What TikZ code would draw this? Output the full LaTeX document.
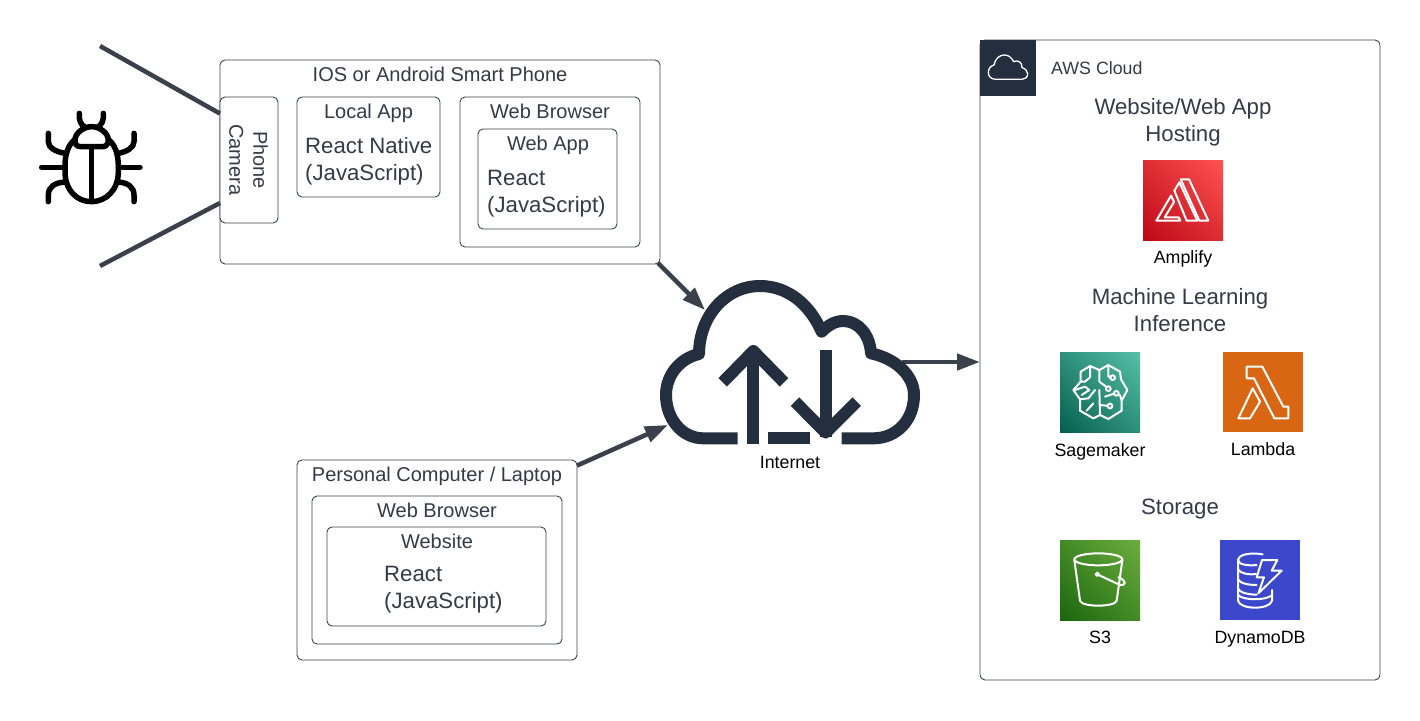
\documentclass[tikz,border=0pt]{standalone}
\usepackage{fontspec}
\setmainfont{Liberation Sans}
\usetikzlibrary{arrows.meta,shadings}
\definecolor{ink}{HTML}{333B46}
\definecolor{edge}{HTML}{3A414A}
\definecolor{awsdark}{HTML}{232F3E}
\definecolor{ampA}{HTML}{BD0816}\definecolor{ampB}{HTML}{FF5252}\definecolor{ampM}{HTML}{DE2E34}
\definecolor{sagA}{HTML}{055F4E}\definecolor{sagB}{HTML}{56C0A7}\definecolor{sagM}{HTML}{2E907A}
\definecolor{s3A}{HTML}{1B660F}\definecolor{s3B}{HTML}{6CAE3E}\definecolor{s3M}{HTML}{448A26}
\definecolor{lamC}{HTML}{D86613}
\definecolor{dynC}{HTML}{3B48CC}
\tikzset{
 box/.style={draw=edge,line width=0.9pt,rounded corners=5pt,fill=white,inner sep=0pt,outer sep=0pt},
 ttl/.style={text=ink,inner sep=0pt,font=\fontsize{20}{24}\selectfont},
 big/.style={text=ink,inner sep=0pt,font=\fontsize{22.2}{26.5}\selectfont},
 lft/.style={big,anchor=west,align=left},
 iconcap/.style={text=black,inner sep=0pt,font=\fontsize{17.8}{20}\selectfont},
 conn/.style={draw=edge,line width=4.5pt},
 arrowline/.style={conn,-{Triangle[length=23pt,width=16pt]}},
 glyph/.style={draw=white,line width=2pt,line join=round,line cap=round},
 iconbox/.style={minimum width=80pt,minimum height=80pt,inner sep=0pt,outer sep=0pt},
 bugline/.style={draw=black,line width=5.5pt,line cap=round,line join=round},
 cloudline/.style={draw=awsdark,line width=12pt,line join=round},
 zoomed/.style={x=0.33333pt,y=-0.33333pt},
}
\begin{document}
\begin{tikzpicture}[x=1pt,y=-1pt]
\useasboundingbox (0,0) rectangle (1420,720);
\fill[white] (0,0) rectangle (1420,720);

% smart phone
\node[box,minimum width=440pt,minimum height=204pt] (phone) at (440,162) {};
\node[ttl] (phoneT) at (440,74.5) {IOS or Android Smart Phone};
\node[box,minimum width=58pt,minimum height=126pt] (camera) at (249,160) {};
\node[ttl,rotate=-90,align=center] (cameraT) at (248.5,160) {Phone\\Camera};
\node[box,minimum width=143pt,minimum height=100pt] (local) at (368.5,147) {};
\node[ttl] (localT) at (368.5,113) {Local App};
\node[lft] (localA) at (305,146) {React Native};
\node[lft] (localB) at (305,174.5) {(JavaScript)};
\node[box,minimum width=180pt,minimum height=150pt] (browser) at (550,172) {};
\node[ttl] (browserT) at (550,111) {Web Browser};
\node[box,minimum width=139pt,minimum height=100pt] (webapp) at (547.5,179) {};
\node[ttl] (webappT) at (548,145) {Web App};
\node[lft] (webappA) at (487,177.5) {React};
\node[lft] (webappB) at (487,206.5) {(JavaScript)};

% personal computer
\node[box,minimum width=280pt,minimum height=200pt] (pc) at (437,560) {};
\node[ttl] (pcT) at (437,476.5) {Personal Computer / Laptop};
\node[box,minimum width=250pt,minimum height=148pt] (pcb) at (437,570) {};
\node[ttl] (pcbT) at (437,510.5) {Web Browser};
\node[box,minimum width=219pt,minimum height=99pt] (site) at (436.5,576.5) {};
\node[ttl] (siteT) at (437,541.5) {Website};
\node[lft] (siteA) at (384,573.5) {React};
\node[lft] (siteB) at (384,602.5) {(JavaScript)};

% AWS
\node[box,minimum width=400pt,minimum height=640pt] (aws) at (1180,360) {};
\node[minimum width=56pt,minimum height=56pt,inner sep=0pt,outer sep=0pt,fill=awsdark] (tab) at (1008,68) {};
\begin{scope}[xshift=970pt,yshift=-30pt,zoomed]
\draw[draw=white,line width=1.3pt,line join=round]
 (78,148) .. controls (62,148) and (55,138) .. (55,128)
 .. controls (55,115) and (62,108) .. (72,105)
 .. controls (75,85) and (90,75) .. (103,75)
 .. controls (116,75) and (125,83) .. (131,95)
 .. controls (143,88) and (158,98) .. (156,113)
 .. controls (166,116) and (173,123) .. (173,131)
 .. controls (173,142) and (165,148) .. (156,148) -- cycle;
\end{scope}
\node[iconcap,anchor=west,text=ink] (awsT) at (1051,68) {AWS Cloud};
\node[big,align=center] (hostT) at (1183,122.5) {Website/Web App\\Hosting};
\node[big,align=center] (mlT) at (1180,310) {Machine Learning\\Inference};
\node[big] (storeT) at (1180,509.5) {Storage};

% Amplify icon
\node[iconbox,shade,lower left=ampA,upper right=ampB,upper left=ampM,lower right=ampM] (amplify) at (1183,200) {};
\begin{scope}[xshift=1040pt,yshift=-150pt,zoomed]
\draw[glyph] (422,88) -- (447,88) -- (505,212) -- (478,212) -- cycle;
\draw[glyph] (403,122) -- (418,97) -- (472,212) -- (440,212) -- cycle;
\draw[glyph] (349,212) -- (393,137) -- (402,156) -- (374,202) -- (416,202) -- (421,212) -- cycle;
\end{scope}
\node[iconcap] (amplifyT) at (1183,259) {Amplify};

% Sagemaker icon
\node[iconbox,shade,lower left=sagA,upper right=sagB,upper left=sagM,lower right=sagM] (sage) at (1100,392) {};
\begin{scope}[xshift=1040pt,yshift=-340pt,zoomed]
\draw[glyph] (178,90) -- (150,78) -- (122,95) -- (122,125) -- (100,150) -- (120,178) -- (120,212) -- (160,235) -- (180,225) -- (205,237) -- (245,212) -- (245,182) -- (262,150) -- (243,118) -- (240,95) -- (205,75) -- cycle;
\draw[glyph] (178,90) -- (178,125) -- (205,145);
\draw[glyph] (178,150) -- (180,225);
\draw[glyph] (205,75) -- (205,110) -- (218,113);
\draw[glyph] (150,78) -- (150,112) -- (135,125) -- (122,125);
\draw[glyph] (105,150) -- (135,140) -- (148,150) -- (125,165);
\draw[glyph] (165,150) -- (145,175) -- (120,178);
\draw[glyph] (180,195) -- (208,198);
\draw[glyph] (160,190) -- (140,212);
\draw[glyph] (195,170) -- (225,160);
\draw[glyph] (240,165) -- (245,182);
\foreach \cx/\cy in {218/113,205/146,229/160,210/198}
 \draw[glyph,fill=sagM] (\cx,\cy) circle (7);
\end{scope}
\node[iconcap] (sageT) at (1100,451.5) {Sagemaker};

% Lambda icon
\node[iconbox,fill=lamC] (lambda) at (1263,392) {};
\begin{scope}[xshift=1040pt,yshift=-340pt,zoomed]
\draw[glyph] (620,80) -- (667,80) -- (730,200) -- (745,200) -- (745,235) -- (703,235) -- (642,115) -- (620,115) -- cycle;
\draw[glyph] (638,145) -- (660,185) -- (630,235) -- (595,235) -- cycle;
\end{scope}
\node[iconcap] (lambdaT) at (1263,449.5) {Lambda};

% S3 icon
\node[iconbox,shade,lower left=s3A,upper right=s3B,upper left=s3M,lower right=s3M] (s3) at (1100,580) {};
\begin{scope}[xshift=1040pt,yshift=-530pt,zoomed]
\draw[glyph] (175,88) ellipse (72 and 18);
\draw[glyph] (103,90) -- (120,212) .. controls (125,232) and (225,232) .. (230,212) -- (247,90);
\draw[glyph] (172,133) -- (240,165) .. controls (258,168) and (262,152) .. (235,142);
\draw[glyph,fill=s3M] (172,133) circle (5);
\end{scope}
\node[iconcap] (s3T) at (1100,637.5) {S3};

% DynamoDB icon
\node[iconbox,fill=dynC] (dynamo) at (1260,580) {};
\begin{scope}[xshift=1040pt,yshift=-530pt,zoomed]
\draw[glyph] (668,73) .. controls (620,65) and (594,78) .. (594,90) -- (594,176);
\draw[glyph] (594,90) .. controls (594,104) and (625,108) .. (650,105);
\draw[glyph] (594,118) .. controls (600,130) and (625,135) .. (648,132);
\draw[glyph] (594,148) .. controls (600,160) and (625,165) .. (650,165);
\draw[glyph] (594,176) .. controls (600,188) and (625,194) .. (650,194);
\draw[glyph] (594,176) -- (594,212) .. controls (600,240) and (690,240) .. (696,212) -- (696,180);
\draw[glyph] (594,195) .. controls (610,212) and (680,212) .. (696,195);
\draw[glyph] (666,90) -- (712,90) -- (695,122) -- (725,122) -- (655,190) -- (672,142) -- (650,142) -- cycle;
\end{scope}
\node[iconcap] (dynamoT) at (1260,639.5) {DynamoDB};

% bug
\begin{scope}[xshift=20pt,yshift=-30pt,zoomed]
\draw[bugline] (165,328) .. controls (145,345) and (135,370) .. (135,410) -- (135,425) .. controls (135,480) and (170,515) .. (214,515) .. controls (258,515) and (295,480) .. (295,425) -- (295,410) .. controls (295,370) and (285,345) .. (265,328);
\draw[bugline] (182,350) .. controls (168,350) and (165,340) .. (165,330) .. controls (165,310) and (190,290) .. (215,290) .. controls (240,290) and (265,310) .. (265,330) .. controls (265,340) and (260,350) .. (248,350) -- cycle;
\draw[bugline] (214,350) -- (214,512);
\draw[bugline] (178,250) .. controls (176,270) and (182,285) .. (196,292);
\draw[bugline] (250,250) .. controls (252,270) and (246,285) .. (232,292);
\draw[bugline] (85,310) -- (85,335) .. controls (85,352) and (105,365) .. (135,370);
\draw[bugline] (342,310) -- (342,335) .. controls (342,352) and (322,365) .. (295,370);
\draw[bugline] (65,412) -- (135,412);
\draw[bugline] (295,412) -- (360,412);
\draw[bugline] (85,515) -- (85,495) .. controls (85,470) and (105,458) .. (135,456);
\draw[bugline] (342,515) -- (342,495) .. controls (342,470) and (322,458) .. (295,456);
\end{scope}

% connector ends
\coordinate (sightTop) at (100,46);
\coordinate (sightBot) at (100,266);
\coordinate (cloudInA) at (705,310);
\coordinate (cloudInB) at (668,425);
\coordinate (cloudOut) at (902,362);
\draw[conn] (sightTop) -- (camera.122.8);
\draw[conn] (sightBot) -- (camera.236);
\draw[arrowline] ([shift={(-2,-1)}]phone.south east) -- (cloudInA);
\draw[arrowline] (pc.34.2) -- (cloudInB);
\draw[arrowline] (cloudOut) -- (cloudOut -| aws.west);

% cloud
\begin{scope}[xshift=640pt,yshift=-250pt,zoomed]
\draw[cloudline] (293,565) -- (190,565) .. controls (125,565) and (78,505) .. (78,435) .. controls (78,375) and (120,325) .. (177,312) .. controls (178,195) and (260,108) .. (360,108) .. controls (445,108) and (510,165) .. (545,245) .. controls (565,225) and (585,213) .. (610,213) .. controls (655,213) and (690,255) .. (693,310) .. controls (765,325) and (822,375) .. (822,435) .. controls (822,510) and (770,565) .. (700,565) -- (605,565);
\draw[cloudline] (385,565) -- (510,565);
\draw[cloudline] (340,583) -- (340,300);
\draw[cloudline] (248,397) -- (340,303) -- (432,397);
\draw[cloudline] (557,300) -- (557,560);
\draw[cloudline] (465,455) -- (557,548) -- (650,455);
\end{scope}
\node[iconcap] (internetT) at (790,462) {Internet};
\end{tikzpicture}
\end{document}
